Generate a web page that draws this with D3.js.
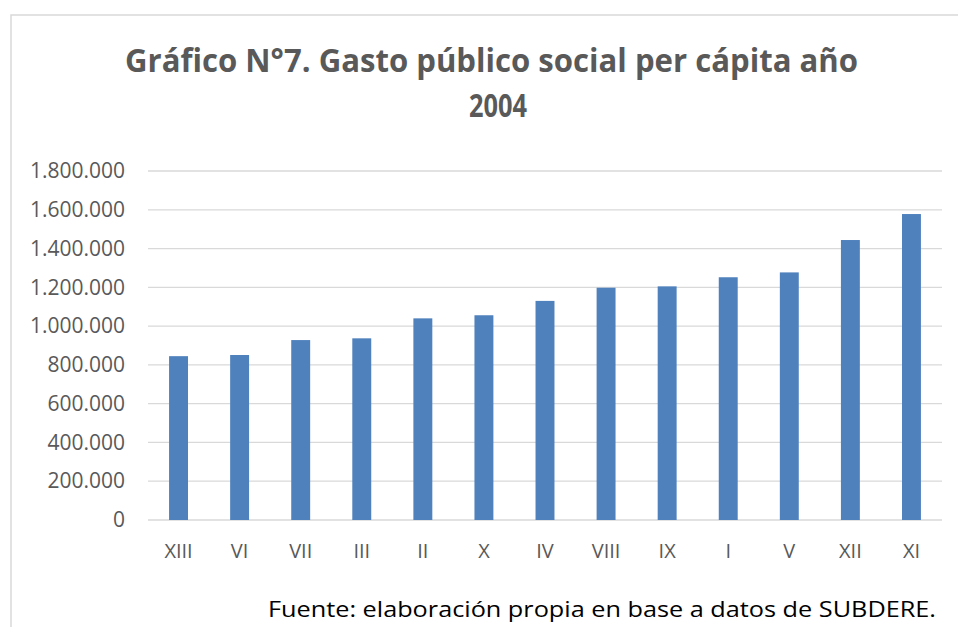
<!DOCTYPE html>
<html>
<head>
<meta charset="utf-8">
<script src="https://d3js.org/d3.v7.min.js"></script>
<style>
  body { margin: 0; background: #fff; }
  text { font-family: "Open Sans", sans-serif; }
</style>
</head>
<body>
<svg width="958" height="627"></svg>
<script>

// regiones ordenadas por gasto
var regiones = ["XIII", "VI", "VII", "III", "II", "X", "IV", "VIII", "IX", "I", "V", "XII", "XI"];
var gasto = [845000, 851000, 928000, 937000, 1040000, 1056000, 1130000, 1198000, 1205000, 1252000, 1277000, 1444000, 1578000];
var yTicks = [0, 200000, 400000, 600000, 800000, 1000000, 1200000, 1400000, 1600000, 1800000];
var titulo = ["Gráfico N°7. Gasto público social per cápita año", "2004"];
var fuente = "Fuente: elaboración propia en base a datos de SUBDERE.";

var svg = d3.select('svg');

// marco del grafico
svg.append("rect")
    .attr("x", 11).attr("y", 15)
    .attr("width", 1000).attr("height", 700)
    .attr("fill", "none")
    .attr("stroke", "#d9d9d9")
    .attr("stroke-width", 1.5);

var scaleX = d3.scaleBand().domain(regiones).range([148, 942])
    .paddingInner(0.69).paddingOuter(0.345);
var scaleY = d3.scaleLinear().domain([0, 1800000]).range([520, 171]);

var fmt = function(v){
    return d3.format(",")(v).replace(/,/g, ".");
};

// lineas de grilla
svg.append("g")
    .selectAll("line")
    .data(yTicks)
    .enter()
    .append("line")
    .attr("x1", 148).attr("x2", 942)
    .attr("y1", function(d){ return scaleY(d); })
    .attr("y2", function(d){ return scaleY(d); })
    .attr("stroke", "#d9d9d9")
    .attr("stroke-width", 1.3);

// eje y
var axisY = svg.append("g")
    .attr("transform", "translate(125,0)")
    .call(d3.axisLeft(scaleY).tickValues(yTicks).tickFormat(fmt).tickSize(0).tickPadding(0));
axisY.select(".domain").remove();
axisY.selectAll("text")
    .attr("fill", "#595959")
    .style("font-size", "21px")
    .style("font-family", "'Open Sans', sans-serif");

// barras
svg.selectAll('.bar')
    .data(gasto)
    .enter()
    .append('rect')
    .attr('class', 'bar')
    .attr('x', function(d, i){ return scaleX(regiones[i]); })
    .attr('width', scaleX.bandwidth())
    .attr('y', function(d){ return scaleY(d); })
    .attr('height', function(d){ return scaleY(0) - scaleY(d); })
    .attr('fill', '#4f81bd');

// eje x
var axisX = svg.append("g")
    .attr("transform", "translate(0,520)")
    .call(d3.axisBottom(scaleX).tickSize(0).tickPadding(0));
axisX.select(".domain").remove();
axisX.selectAll("text")
    .attr("y", 38)
    .attr("dy", null)
    .attr("fill", "#595959")
    .style("font-size", "20px")
    .style("font-family", "'Open Sans', sans-serif");

// titulo
svg.append("text")
    .attr("x", 491.5).attr("y", 72)
    .attr("text-anchor", "middle")
    .attr("font-size", 32)
    .attr("font-weight", "bold")
    .attr("fill", "#595959")
    .attr("textLength", 733)
    .attr("lengthAdjust", "spacingAndGlyphs")
    .text(titulo[0]);

svg.append("text")
    .attr("x", 498).attr("y", 117)
    .attr("text-anchor", "middle")
    .attr("font-size", 32)
    .attr("font-weight", "bold")
    .attr("fill", "#595959")
    .attr("textLength", 58)
    .attr("lengthAdjust", "spacingAndGlyphs")
    .text(titulo[1]);

// fuente
svg.append("text")
    .attr("x", 268).attr("y", 617)
    .attr("font-size", 22)
    .attr("fill", "#000")
    .attr("textLength", 668)
    .attr("lengthAdjust", "spacingAndGlyphs")
    .text(fuente);

</script>
</body>
</html>
